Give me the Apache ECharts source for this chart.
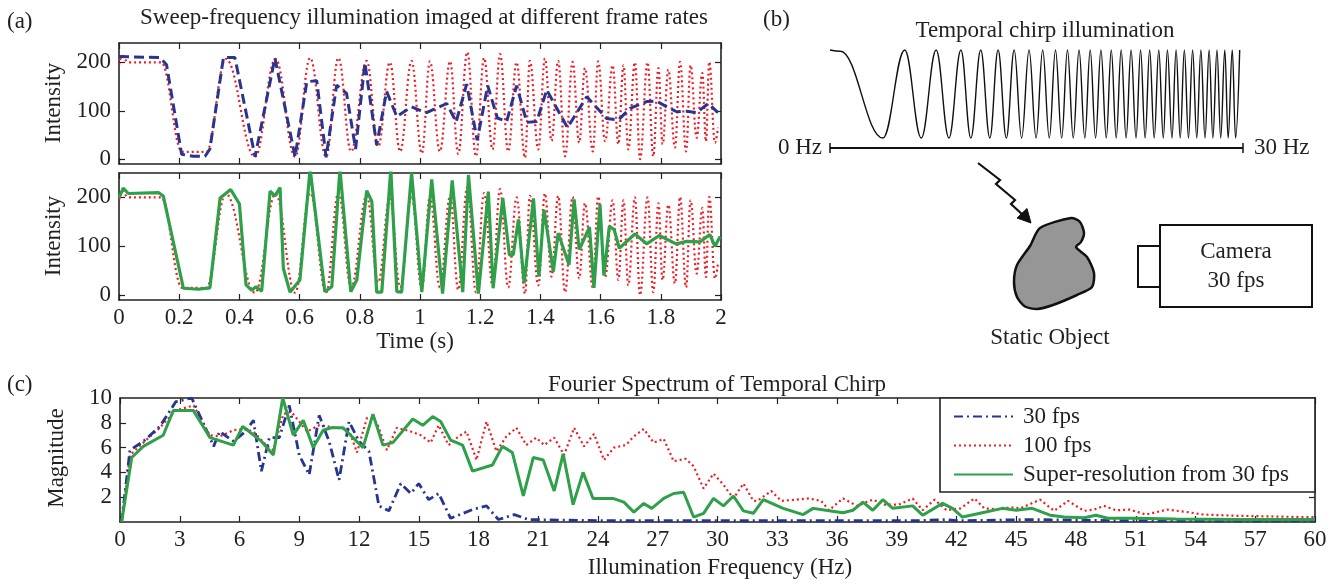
<!DOCTYPE html>
<html><head><meta charset="utf-8">
<script src="https://cdn.jsdelivr.net/npm/echarts@6/dist/echarts.min.js"></script>
<style>html,body{margin:0;padding:0;background:#fff}#c{width:1333px;height:584px}</style>
</head><body><div id="c"></div><script>
// ---------- data ----------
// (a) 100 fps capture: turning points [time s, intensity]
const red100 = [[0,195],[0.01,214],[0.03,200],[0.14,200],[0.21,15],[0.29,15],[0.355,207],[0.452,5],[0.52,207],[0.585,5],[0.635,209],[0.688,5],[0.729,209],[0.771,16],[0.823,203],[0.861,26],[0.90,200],[0.934,16],[0.972,203],[1.006,12],[1.033,202],[1.066,16],[1.10,202],[1.127,11],[1.157,221],[1.186,6],[1.213,209],[1.241,20],[1.266,217],[1.293,16],[1.321,200],[1.349,3],[1.365,203],[1.393,20],[1.415,208],[1.437,38],[1.459,203],[1.482,6],[1.507,201],[1.529,34],[1.548,188],[1.574,16],[1.592,202],[1.615,37],[1.64,194],[1.659,31],[1.676,194],[1.692,20],[1.714,200],[1.731,0],[1.756,200],[1.775,6],[1.792,188],[1.806,31],[1.825,185],[1.847,24],[1.864,201],[1.884,16],[1.899,194],[1.919,44],[1.938,178],[1.95,37],[1.961,201],[1.98,34],[1.99,65]];
// (a) 30 fps capture
const blue30 = [[0,212],[0.136,210],[0.158,195],[0.208,10],[0.247,6],[0.286,6],[0.302,21],[0.347,210],[0.385,210],[0.452,5],[0.518,209],[0.585,5],[0.624,160],[0.657,162],[0.688,4],[0.723,153],[0.756,136],[0.786,21],[0.817,199],[0.856,29],[0.889,140],[0.923,88],[0.972,108],[1.0,101],[1.022,96],[1.089,115],[1.12,77],[1.155,155],[1.19,39],[1.225,152],[1.257,85],[1.288,78],[1.321,152],[1.355,76],[1.388,78],[1.421,143],[1.49,65],[1.554,129],[1.62,84],[1.659,81],[1.698,105],[1.753,119],[1.786,120],[1.82,108],[1.853,98],[1.886,99],[1.919,96],[1.958,115],[1.99,96]];
// (a) super-resolution from 30 fps
const greenSR = [[0,199],[0.014,219],[0.031,208],[0.131,210],[0.147,203],[0.214,14],[0.263,12],[0.302,15],[0.336,199],[0.371,216],[0.4,187],[0.422,21],[0.441,10],[0.455,17],[0.474,8],[0.502,213],[0.518,203],[0.535,220],[0.546,55],[0.568,6],[0.601,31],[0.635,258],[0.684,7],[0.707,17],[0.734,258],[0.77,7],[0.79,31],[0.823,214],[0.84,192],[0.856,6],[0.873,6],[0.903,258],[0.923,7],[0.939,6],[0.972,251],[1.006,6],[1.039,237],[1.075,3],[1.107,235],[1.142,6],[1.161,246],[1.194,3],[1.227,212],[1.243,14],[1.275,199],[1.297,82],[1.31,83],[1.327,155],[1.346,24],[1.377,198],[1.395,38],[1.412,175],[1.443,48],[1.459,127],[1.495,62],[1.512,196],[1.529,93],[1.563,139],[1.578,15],[1.598,186],[1.611,40],[1.629,141],[1.645,134],[1.662,96],[1.714,125],[1.753,105],[1.795,122],[1.851,105],[1.886,110],[1.93,109],[1.963,124],[1.98,100],[1.997,120]];
// (c) spectra [Hz, magnitude]
const spec30 = [[0.08,0],[0.5,5.8],[1.17,6.5],[2.0,7.7],[2.8,9.7],[3.6,10.0],[4.4,7.2],[4.7,6.1],[5.0,7.3],[5.7,6.5],[6.3,7.3],[6.7,8.2],[7.1,4.1],[7.5,6.8],[8.0,6.8],[8.5,9.4],[9.0,5.4],[9.5,3.8],[10.0,8.6],[10.5,6.5],[11.0,3.4],[11.5,8.1],[12.0,6.5],[12.5,5.7],[13.0,1.3],[13.5,0.9],[14.1,3.1],[14.6,2.3],[15.0,3.1],[15.5,1.8],[16.0,2.3],[16.6,0.3],[17.7,1.0],[18.4,1.3],[19.0,0.2],[19.8,0.6],[20.5,0.2],[22,0.15],[25,0.1],[28,0.1],[30,0.1],[35,0.1],[40,0.1],[41.5,0.2],[42,0.1],[46,0.2],[50,0.1],[55,0.1],[60,0.1]];
const spec100 = [[0.08,0],[0.5,5.4],[1.17,6.4],[2.0,7.6],[2.8,9.0],[3.7,9.4],[4.5,7.0],[5.0,6.9],[5.7,7.4],[6.2,7.5],[6.7,7.3],[7.4,6.1],[7.7,5.8],[8.2,8.7],[8.6,8.9],[9.4,7.3],[10.0,7.8],[10.9,7.6],[11.5,7.4],[11.9,5.6],[12.4,8.4],[12.9,8.0],[13.4,5.8],[13.9,7.6],[14.6,7.3],[15.1,7.0],[15.6,6.4],[16.0,7.8],[16.5,6.2],[17.0,6.9],[17.4,7.3],[17.9,5.0],[18.4,8.1],[18.9,5.7],[19.4,6.9],[19.9,7.6],[20.4,6.2],[20.9,6.8],[21.3,6.2],[21.8,6.8],[22.3,5.4],[22.8,7.6],[23.3,6.1],[23.8,7.1],[24.3,5.0],[24.8,6.0],[25.4,6.2],[25.8,6.9],[26.3,7.5],[26.8,6.4],[27.3,6.7],[27.8,4.9],[28.4,5.1],[28.8,4.5],[29.3,2.7],[29.8,3.9],[30.3,3.0],[30.8,1.9],[31.3,3.1],[31.8,1.7],[32.0,1.7],[32.7,2.5],[33.2,1.7],[33.9,1.8],[34.6,1.9],[35.2,1.7],[35.6,0.95],[36.3,1.9],[37.0,1.3],[37.8,1.8],[38.4,1.4],[39.1,1.4],[39.8,1.9],[40.3,0.95],[40.9,1.8],[41.5,0.95],[42.2,1.1],[42.9,1.9],[43.4,1.1],[44.2,1.0],[44.7,1.2],[45.2,1.1],[46.2,1.8],[46.9,0.9],[47.6,1.7],[48.4,0.9],[48.9,1.0],[49.4,1.3],[50.0,0.95],[50.7,1.0],[51.5,0.6],[52.6,1.0],[53.6,0.8],[54.4,0.6],[56.1,0.5],[57.7,0.45],[59.4,0.4],[60,0.4]];
const specSR = [[0.08,0],[0.59,5.2],[1.17,6.1],[2.17,7.0],[2.68,9.0],[3.68,9.0],[4.52,6.8],[5.69,6.2],[6.16,7.7],[7.11,6.5],[7.7,5.4],[8.17,10.0],[8.7,7.0],[9.2,8.2],[9.7,6.0],[10.2,7.4],[10.6,7.6],[11.2,7.6],[12.2,6.0],[12.7,8.7],[13.2,6.2],[13.7,6.4],[14.7,8.3],[15.2,7.8],[15.7,8.5],[16.1,8.1],[16.6,6.6],[17.2,6.2],[17.7,4.1],[18.7,4.6],[19.2,6.1],[19.7,5.6],[20.25,2.1],[20.75,5.2],[21.25,5.0],[21.8,2.5],[22.25,5.5],[22.75,1.4],[23.25,4.0],[23.75,1.9],[24.75,1.9],[25.3,1.6],[25.8,0.8],[26.3,1.5],[26.7,1.1],[27.3,1.9],[27.8,2.3],[28.3,2.4],[28.8,0.4],[29.3,0.7],[29.8,1.9],[30.3,1.3],[30.8,2.1],[31.3,0.9],[31.8,0.7],[32.3,1.8],[33.3,1.1],[34.3,0.6],[34.8,1.1],[35.6,0.9],[36.3,0.75],[36.8,0.95],[37.3,1.6],[37.8,0.95],[38.3,1.8],[38.8,1.1],[39.8,1.3],[40.3,0.55],[41.3,1.5],[41.8,1.1],[42.3,0.4],[43.3,0.75],[44.3,1.1],[45.0,0.95],[45.8,1.1],[46.7,0.55],[47.4,0.4],[48.4,0.35],[49.0,0.55],[49.6,0.3],[51,0.3],[53,0.25],[56,0.2],[60,0.2]];
// (b) illustrative chirp: positions (0-100 along the 0-30 Hz bar) of troughs and peaks
const chirpTroughs = [12.8,22.1,28.8,34.1,38.7,42.7,46.4,49.9,53.1,56.1,58.9,61.7,64.3,66.9,69.3,71.7,74.1,76.3,78.5,80.7,82.8,84.8,86.8,88.8,90.8,92.7,94.6,96.4,98.2];
const chirpPeaks = [18.1,25.7,31.7,36.5,40.7,44.6,48.2,51.5,54.6,57.5,60.3,63.0,65.6,68.1,70.5,72.9,75.2,77.4,79.6,81.7,83.8,85.8,87.8,89.8,91.8,93.7,95.6,97.4,99.2];
const intensityTicks = [0,100,200];
const magLabels = [2,4,6,8,10];
const legendNames = ['30 fps','100 fps','Super-resolution from 30 fps'];

// ---------- styling ----------
const FF = '"Liberation Serif","Times New Roman",serif';
const FS = 23;
const TXT = '#231f20';
const AX = '#222';
const RED = '#ee1c25', BLUE = '#28358f', GREEN = '#2ea04a';

const chirpData = [[0,1],[2.5,0.97]];
chirpTroughs.forEach((t,i)=>{ chirpData.push([t,-1]); chirpData.push([chirpPeaks[i],1]); });

function xa(grid, pos, min, max, interval, showLabel){
  return {type:'value', gridIndex:grid, position:pos, min, max, interval,
    axisLine:{show:true, onZero:false, lineStyle:{color:AX, width:1.6}},
    axisTick:{show:true, inside:true, length:6, lineStyle:{color:AX, width:1.2}},
    axisLabel:{show:showLabel, margin:6, fontFamily:FF, fontSize:FS, color:TXT},
    splitLine:{show:false}};
}
function ya(grid, pos, min, max, tickVals, labelVals, showLabel){
  return {type:'value', gridIndex:grid, position:pos, min, max,
    axisLine:{show:true, onZero:false, lineStyle:{color:AX, width:1.6}},
    axisTick:{show:true, inside:true, length:6, customValues:tickVals, lineStyle:{color:AX, width:1.2}},
    axisLabel:{show:showLabel, margin:8, customValues:labelVals, fontFamily:FF, fontSize:FS, color:TXT},
    splitLine:{show:false}};
}
function txt(x,y,text,align,rot){
  const o = {type:'text', x, y, z:30, style:{text, font:FS+'px '+FF, fill:TXT, textAlign:align||'center', textVerticalAlign:'middle'}};
  if (rot) o.rotation = rot;
  return o;
}

const option = {
  animation:false,
  backgroundColor:'#fff',
  grid:[
    {left:119, top:43, width:602, height:121},
    {left:119, top:173, width:602, height:127},
    {left:120, top:398, width:1195, height:124},
    {left:830, top:50, width:413, height:88}
  ],
  xAxis:[
    xa(0,'bottom',0,2,0.2,false), xa(0,'top',0,2,0.2,false),
    xa(1,'bottom',0,2,0.2,true), xa(1,'top',0,2,0.2,false),
    xa(2,'bottom',0,60,3,true), xa(2,'top',0,60,3,false),
    {type:'value', gridIndex:3, min:0, max:100, show:false}
  ],
  yAxis:[
    ya(0,'left',-10,240,intensityTicks,intensityTicks,true), ya(0,'right',-10,240,intensityTicks,intensityTicks,false),
    ya(1,'left',-10,250,intensityTicks,intensityTicks,true), ya(1,'right',-10,250,intensityTicks,intensityTicks,false),
    ya(2,'left',0,10,[2,4,6,8],magLabels,true), ya(2,'right',0,10,[2,4,6,8],magLabels,false),
    {type:'value', gridIndex:3, min:-1, max:1, show:false}
  ],
  legend:{
    data:legendNames, orient:'vertical', left:953, top:405, z:20,
    itemWidth:59, itemHeight:23, itemGap:6, padding:0,
    itemStyle:{opacity:0},
    textStyle:{fontFamily:FF, fontSize:FS, color:TXT, lineHeight:23, padding:[0,0,0,5]}
  },
  series:[
    {type:'line', xAxisIndex:0, yAxisIndex:0, data:red100, symbol:'none', smooth:0.4, smoothMonotone:'x',
      lineStyle:{color:RED, width:2.2, type:[2,3]}, itemStyle:{color:RED}, z:2},
    {type:'line', xAxisIndex:0, yAxisIndex:0, data:blue30, symbol:'none',
      lineStyle:{color:BLUE, width:3, type:[10,5]}, itemStyle:{color:BLUE}, z:3},
    {type:'line', xAxisIndex:2, yAxisIndex:2, data:red100, symbol:'none', smooth:0.4, smoothMonotone:'x',
      lineStyle:{color:RED, width:2.2, type:[2,3]}, itemStyle:{color:RED}, z:2},
    {type:'line', xAxisIndex:2, yAxisIndex:2, data:greenSR, symbol:'none',
      lineStyle:{color:GREEN, width:3.2}, itemStyle:{color:GREEN}, z:3},
    {name:'100 fps', type:'line', xAxisIndex:4, yAxisIndex:4, data:spec100, symbol:'none',
      lineStyle:{color:RED, width:2.2, type:[2,3]}, itemStyle:{color:RED}, z:2},
    {name:'30 fps', type:'line', xAxisIndex:4, yAxisIndex:4, data:spec30, symbol:'none',
      lineStyle:{color:BLUE, width:2.8, type:[9,4,2,4]}, itemStyle:{color:BLUE}, z:3},
    {name:'Super-resolution from 30 fps', type:'line', xAxisIndex:4, yAxisIndex:4, data:specSR, symbol:'none',
      lineStyle:{color:GREEN, width:3}, itemStyle:{color:GREEN}, z:4},
    {type:'line', xAxisIndex:6, yAxisIndex:6, data:chirpData, symbol:'none', smooth:0.4, smoothMonotone:'x', clip:false,
      lineStyle:{color:'#111', width:1.4}, itemStyle:{color:'#111'}, z:2}
  ],
  graphic:[
    // legend box (c)
    {type:'rect', z:10, shape:{x:940, y:398, width:375, height:94}, style:{fill:'#fff', stroke:AX, lineWidth:1.6}},
    // panel labels and titles
    txt(7,22,'(a)','left'),
    txt(424,18,'Sweep-frequency illumination imaged at different frame rates'),
    txt(54,103,'Intensity','center',Math.PI/2),
    txt(54,236,'Intensity','center',Math.PI/2),
    txt(415,342,'Time (s)'),
    txt(763,20,'(b)','left'),
    txt(1045,31,'Temporal chirp illumination'),
    txt(822,148,'0 Hz','right'),
    txt(1254,148,'30 Hz','left'),
    txt(1236,252,'Camera'),
    txt(1236,281,'30 fps'),
    txt(1050,338,'Static Object'),
    txt(7,385,'(c)','left'),
    txt(717,385,'Fourier Spectrum of Temporal Chirp'),
    txt(57,458,'Magnitude','center',Math.PI/2),
    txt(720,568,'Illumination Frequency (Hz)'),
    // (b) frequency bar
    {type:'line', z:20, shape:{x1:830, y1:148, x2:1243, y2:148}, style:{stroke:'#111', lineWidth:2}},
    {type:'line', z:20, shape:{x1:830, y1:143, x2:830, y2:153}, style:{stroke:'#111', lineWidth:1.5}},
    {type:'line', z:20, shape:{x1:1243, y1:143, x2:1243, y2:153}, style:{stroke:'#111', lineWidth:1.5}},
    // lightning arrow
    {type:'polyline', z:20, shape:{points:[[978,163],[1000,180],[996,184],[1015,200],[1011,204],[1024,216]]}, style:{stroke:'#111', lineWidth:2.2, fill:null}},
    {type:'polygon', z:20, shape:{points:[[1031,223],[1017,218],[1027,208.5]]}, style:{fill:'#111', stroke:'#111', lineWidth:1}},
    // static object blob
    {type:'polygon', z:20, shape:{smooth:0.25, points:[[1040,228],[1071,218],[1080,222],[1084,233],[1081,242],[1076,247],[1087,257],[1094,273],[1092,287],[1077,295],[1053,305],[1037,309],[1025,306.5],[1017,297],[1014,282],[1017,265],[1030,246]]},
      style:{fill:'#969696', stroke:'#111', lineWidth:2.5}},
    // camera
    {type:'rect', z:20, shape:{x:1160, y:225, width:152, height:82}, style:{fill:'#fff', stroke:'#111', lineWidth:2}},
    {type:'rect', z:20, shape:{x:1138, y:246, width:22, height:41}, style:{fill:'#fff', stroke:'#111', lineWidth:2}}
  ]
};
const chart = echarts.init(document.getElementById('c'), null, {renderer:'canvas'});
chart.setOption(option);
</script></body></html>
